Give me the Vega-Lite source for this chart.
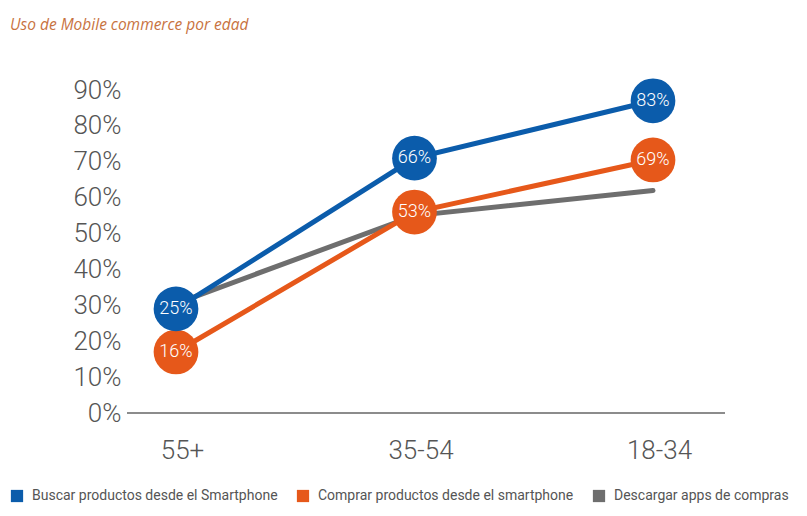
{
  "$schema": "https://vega.github.io/schema/vega-lite/v6.json",
  "width": 598,
  "height": 323,
  "autosize": {"type": "none"},
  "padding": {"left": 127, "top": 90, "right": 82, "bottom": 103},
  "background": "white",
  "title": {
    "text": "Uso de Mobile commerce por edad",
    "anchor": "start",
    "frame": "group",
    "dx": -117,
    "offset": 44,
    "font": "Open Sans",
    "fontStyle": "italic",
    "fontWeight": "normal",
    "fontSize": 15.5,
    "color": "#c8733f"
  },
  "config": {
    "view": {"stroke": null},
    "font": "Roboto"
  },
  "data": {
    "values": [
      {"serie": "Descargar apps de compras", "edad": "55+", "valor": 0.305, "etiqueta": null},
      {"serie": "Descargar apps de compras", "edad": "35-54", "valor": 0.55, "etiqueta": null},
      {"serie": "Descargar apps de compras", "edad": "18-34", "valor": 0.62, "etiqueta": null},
      {"serie": "Comprar productos desde el smartphone", "edad": "55+", "valor": 0.17, "etiqueta": "16%"},
      {"serie": "Comprar productos desde el smartphone", "edad": "35-54", "valor": 0.56, "etiqueta": "53%"},
      {"serie": "Comprar productos desde el smartphone", "edad": "18-34", "valor": 0.705, "etiqueta": "69%"},
      {"serie": "Buscar productos desde el Smartphone", "edad": "55+", "valor": 0.29, "etiqueta": "25%"},
      {"serie": "Buscar productos desde el Smartphone", "edad": "35-54", "valor": 0.71, "etiqueta": "66%"},
      {"serie": "Buscar productos desde el Smartphone", "edad": "18-34", "valor": 0.87, "etiqueta": "83%"}
    ]
  },
  "encoding": {
    "y": {
      "field": "valor",
      "type": "quantitative",
      "scale": {"domain": [0, 0.9], "nice": false, "zero": true},
      "axis": {
        "title": null,
        "values": [0, 0.1, 0.2, 0.3, 0.4, 0.5, 0.6, 0.7, 0.8, 0.9],
        "format": ".0%",
        "domain": false,
        "ticks": false,
        "grid": false,
        "labelFontSize": 26,
        "labelFontWeight": 300,
        "labelColor": "#555555",
        "labelPadding": 6
      }
    }
  },
  "layer": [
    {
      "mark": {"type": "rule", "color": "#8c8c8c", "strokeWidth": 1.5},
      "encoding": {
        "y": {"datum": 0, "type": "quantitative"}
      }
    },
    {
      "mark": {"type": "line", "strokeWidth": 5, "strokeCap": "round"},
      "encoding": {
        "x": {
          "field": "edad",
          "type": "ordinal",
          "sort": ["55+", "35-54", "18-34"],
          "scale": {"type": "point", "range": [49, 526], "padding": 0},
          "axis": {
            "title": null,
            "labelAngle": 0,
            "ticks": false,
            "grid": false,
            "domain": false,
            "labelFontSize": 26,
            "labelFontWeight": 300,
            "labelColor": "#555555",
            "labelPadding": 24,
            "labelOffset": 6
          }
        },
        "color": {
          "field": "serie",
          "type": "nominal",
          "scale": {
            "domain": ["Buscar productos desde el Smartphone", "Comprar productos desde el smartphone", "Descargar apps de compras"],
            "range": ["#0b5cab", "#e6581a", "#6e6e6e"]
          },
          "legend": {
            "title": null,
            "orient": "none",
            "direction": "horizontal",
            "legendX": -117,
            "legendY": 399,
            "symbolType": "square",
            "symbolSize": 150,
            "symbolStrokeWidth": 0,
            "labelFontSize": 14,
            "labelColor": "#555555",
            "labelOffset": 8,
            "columnPadding": 18,
            "labelLimit": 400
          }
        }
      }
    },
    {
      "transform": [{"filter": "datum.etiqueta != null"}],
      "mark": {"type": "point", "filled": true, "opacity": 1, "size": 2000, "shape": "circle"},
      "encoding": {
        "x": {"field": "edad", "type": "ordinal", "sort": ["55+", "35-54", "18-34"]},
        "color": {"field": "serie", "type": "nominal", "legend": null}
      }
    },
    {
      "transform": [{"filter": "datum.etiqueta != null"}],
      "mark": {"type": "text", "color": "white", "fontSize": 18, "fontWeight": 300, "align": "center", "baseline": "middle"},
      "encoding": {
        "x": {"field": "edad", "type": "ordinal", "sort": ["55+", "35-54", "18-34"]},
        "text": {"field": "etiqueta", "type": "nominal"}
      }
    }
  ]
}
